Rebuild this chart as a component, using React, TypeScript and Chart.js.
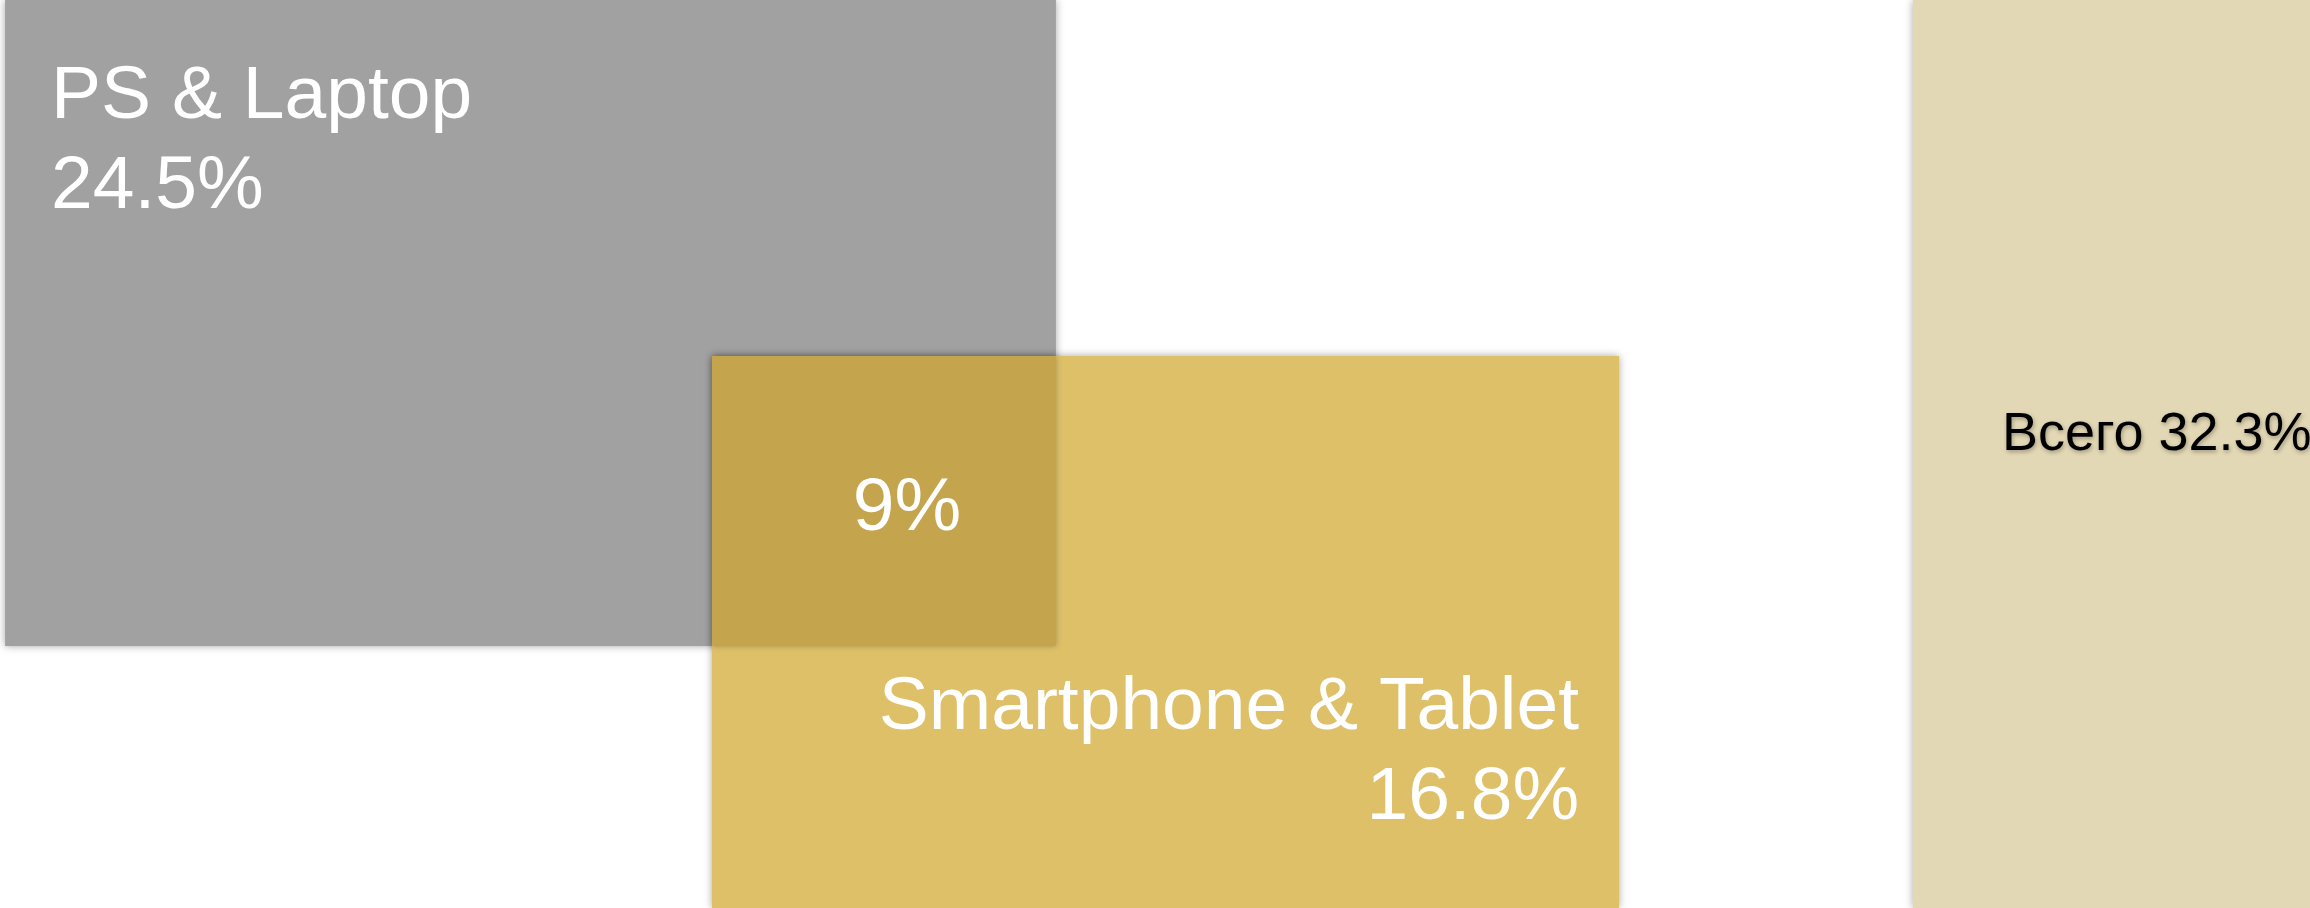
import React, { useEffect, useRef } from "react";
import { Chart, registerables } from "chart.js";

Chart.register(...registerables);

// ---- data ----
const setLabels = ["PS & Laptop", "Smartphone & Tablet"];
const setShares = [24.5, 16.8];
const overlapShare = 9;
const totalLabel = "Всего";
const totalShare = 32.3;

// ---- layout (axis units: x 0..100 left→right, y 0..100 top→bottom) ----
const BOX = {
  pc: { x0: 0.22, x1: 45.71, y0: 0, y1: 71.15 },
  mobile: { x0: 30.82, x1: 70.09, y0: 39.21, y1: 100 },
  total: { x0: 82.81, x1: 100, y0: 0, y1: 100 },
};

const COLORS = {
  pc: "#a1a1a1",
  mobile: "#dec069",
  overlap: "#c4a54e",
  total: "#e3d8b5",
};

const FONT = "'Liberation Sans', Arial, Helvetica, sans-serif";

const W = 2310;
const H = 908;

const vennPlugin = {
  id: "vennBoxes",
  afterDraw(chart: any) {
    const { ctx } = chart;
    const xs = chart.scales.x;
    const ys = chart.scales.y;
    const rect = (b: { x0: number; x1: number; y0: number; y1: number }) => {
      const l = xs.getPixelForValue(b.x0);
      const r = xs.getPixelForValue(b.x1);
      const t = ys.getPixelForValue(b.y0);
      const bt = ys.getPixelForValue(b.y1);
      return { l, r, t, b: bt, w: r - l, h: bt - t };
    };
    const pc = rect(BOX.pc);
    const mob = rect(BOX.mobile);
    const tot = rect(BOX.total);
    const ov = {
      l: Math.max(pc.l, mob.l),
      r: Math.min(pc.r, mob.r),
      t: Math.max(pc.t, mob.t),
      b: Math.min(pc.b, mob.b),
    };

    ctx.save();
    const shadow = (on: boolean) => {
      ctx.shadowColor = on ? "rgba(0,0,0,0.35)" : "transparent";
      ctx.shadowBlur = on ? 8 : 0;
      ctx.shadowOffsetX = 0;
      ctx.shadowOffsetY = 0;
    };

    // total box
    shadow(true);
    ctx.fillStyle = COLORS.total;
    ctx.fillRect(tot.l, tot.t, tot.w, tot.h);

    // pc box
    ctx.fillStyle = COLORS.pc;
    ctx.fillRect(pc.l, pc.t, pc.w, pc.h);

    // mobile box
    ctx.fillStyle = COLORS.mobile;
    ctx.fillRect(mob.l, mob.t, mob.w, mob.h);

    // overlap
    ctx.shadowColor = "rgba(0,0,0,0.25)";
    ctx.shadowBlur = 6;
    ctx.fillStyle = COLORS.overlap;
    ctx.fillRect(ov.l, ov.t, ov.r - ov.l, ov.b - ov.t);
    shadow(false);

    // texts
    ctx.fillStyle = "#ffffff";
    ctx.font = `75px ${FONT}`;
    ctx.textBaseline = "alphabetic";

    ctx.textAlign = "left";
    ctx.fillText(setLabels[0], pc.l + 46, pc.t + 118);
    ctx.fillText(`${setShares[0]}%`, pc.l + 46, pc.t + 208);

    ctx.textAlign = "right";
    ctx.fillText(setLabels[1], mob.r - 40, mob.t + 373);
    ctx.fillText(`${setShares[1]}%`, mob.r - 40, mob.t + 463);

    ctx.textAlign = "center";
    ctx.fillText(`${overlapShare}%`, (ov.l + ov.r) / 2 + 23, (ov.t + ov.b) / 2 + 29);

    ctx.shadowColor = "rgba(0,0,0,0.3)";
    ctx.shadowBlur = 4;
    ctx.shadowOffsetX = 1;
    ctx.shadowOffsetY = 2;
    ctx.fillStyle = "#000000";
    ctx.font = `54px ${FONT}`;
    ctx.textAlign = "left";
    ctx.fillText(`${totalLabel} ${totalShare}%`, tot.l + 89, 450);
    ctx.restore();
  },
};

export default function App() {
  const ref = useRef<HTMLCanvasElement | null>(null);
  useEffect(() => {
    if (!ref.current) return;
    const chart = new Chart(ref.current, {
      type: "scatter",
      data: { datasets: [{ data: [], pointRadius: 0 }] },
      options: {
        animation: false,
        responsive: false,
        events: [],
        layout: { padding: 0 },
        plugins: { legend: { display: false }, tooltip: { enabled: false }, title: { display: false } },
        scales: {
          x: { type: "linear", min: 0, max: 100, display: false },
          y: { type: "linear", min: 0, max: 100, reverse: true, display: false },
        },
      },
      plugins: [vennPlugin],
    });
    return () => chart.destroy();
  }, []);
  return (
    <div style={{ position: "fixed", left: 0, top: 0, width: W, height: H, background: "#fff" }}>
      <canvas ref={ref} width={W} height={H} style={{ display: "block", width: W, height: H }} />
    </div>
  );
}
